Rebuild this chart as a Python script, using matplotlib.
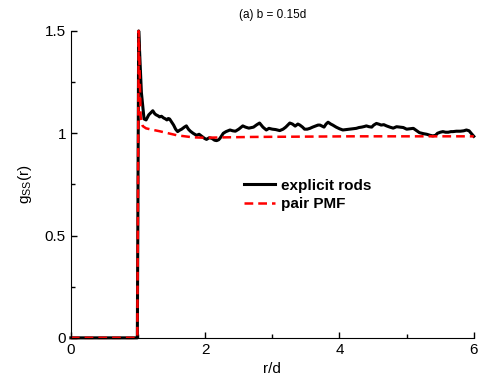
import numpy as np
import matplotlib
matplotlib.use("Agg")
import matplotlib.pyplot as plt
from matplotlib.ticker import MultipleLocator

plt.rcParams['font.family'] = ['Liberation Sans', 'DejaVu Sans']
plt.rcParams['mathtext.fontset'] = 'custom'
plt.rcParams['mathtext.rm'] = 'Liberation Sans'

# explicit rods simulation
r_exp = [0, 0.99, 1.01, 1.05, 1.09, 1.12, 1.16, 1.19, 1.22, 1.25, 1.27, 1.3, 1.32,
         1.35, 1.38, 1.41, 1.43, 1.45, 1.47, 1.5, 1.53, 1.56, 1.59, 1.62, 1.65,
         1.69, 1.72, 1.75, 1.78, 1.82, 1.87, 1.91, 1.95, 1.99, 2.02, 2.06, 2.1,
         2.14, 2.17, 2.2, 2.22, 2.25, 2.27, 2.31, 2.37, 2.41, 2.45, 2.5, 2.56,
         2.6, 2.65, 2.69, 2.72, 2.77, 2.81, 2.86, 2.91, 2.95, 3.0, 3.05, 3.11,
         3.16, 3.2, 3.26, 3.3, 3.34, 3.38, 3.41, 3.45, 3.48, 3.52, 3.56, 3.6,
         3.64, 3.68, 3.71, 3.74, 3.77, 3.8, 3.83, 3.87, 3.9, 3.95, 4.0, 4.05,
         4.1, 4.15, 4.2, 4.25, 4.29, 4.33, 4.37, 4.40, 4.44, 4.48, 4.51, 4.55,
         4.59, 4.62, 4.66, 4.70, 4.75, 4.8, 4.85, 4.90, 4.95, 5.0, 5.05, 5.10,
         5.15, 5.19, 5.25, 5.3, 5.35, 5.39, 5.43, 5.46, 5.5, 5.54, 5.58, 5.62,
         5.66, 5.69, 5.74, 5.8, 5.85, 5.89, 5.93, 5.96, 6.0]
g_exp = [0, 0, 1.5, 1.2, 1.07, 1.065, 1.09, 1.1, 1.11, 1.095, 1.09, 1.085, 1.08,
         1.083, 1.075, 1.07, 1.065, 1.072, 1.07, 1.055, 1.04, 1.02, 1.008, 1.015, 1.02,
         1.03, 1.036, 1.02, 1.01, 1.0, 0.99, 0.995, 0.985, 0.975, 0.97, 0.978, 0.975,
         0.966, 0.964, 0.968, 0.975, 0.99, 1.0, 1.008, 1.016, 1.012, 1.01, 1.02, 1.036,
         1.03, 1.025, 1.028, 1.03, 1.042, 1.05, 1.03, 1.016, 1.024, 1.02, 1.018, 1.013,
         1.02, 1.03, 1.05, 1.045, 1.035, 1.045, 1.04, 1.03, 1.02, 1.02, 1.024, 1.03,
         1.035, 1.04, 1.04, 1.035, 1.03, 1.045, 1.054, 1.045, 1.04, 1.03, 1.022, 1.016,
         1.018, 1.02, 1.022, 1.024, 1.028, 1.03, 1.033, 1.036, 1.032, 1.03, 1.04, 1.048,
         1.044, 1.04, 1.042, 1.036, 1.03, 1.025, 1.032, 1.03, 1.028, 1.02, 1.022, 1.024,
         1.012, 1.003, 0.998, 0.995, 0.99, 0.987, 0.99, 1.0, 1.005, 1.008, 1.005, 1.005,
         1.008, 1.008, 1.01, 1.01, 1.012, 1.016, 1.012, 1.0, 0.985]

# pair potential of mean force
r_pmf = [0, 0.99, 1.01, 1.04, 1.07, 1.12, 1.2, 1.32, 1.45, 1.58, 1.7, 1.82,
         2.0, 2.3, 2.7, 3.2, 3.7, 4.2, 4.7, 5.2, 5.6, 6.0]
g_pmf = [0, 0, 1.5, 1.08, 1.035, 1.024, 1.018, 1.01, 1.0, 0.99, 0.985, 0.98,
         0.978, 0.98, 0.982, 0.983, 0.984, 0.985, 0.985, 0.985, 0.985, 0.985]

fig = plt.figure(figsize=(4.82, 3.87), dpi=100)
ax = fig.add_axes([0.147, 0.127, 0.836, 0.793])

ax.plot(r_exp, g_exp, color='black', lw=2.2, label='explicit rods', clip_on=False)
ax.plot(r_pmf, g_pmf, color='red', lw=1.8, ls=(0, (3.5, 2)), label='pair PMF', clip_on=False)

ax.set_xlim(0, 6)
ax.set_ylim(0, 1.5)
ax.xaxis.set_major_locator(MultipleLocator(2))
ax.xaxis.set_minor_locator(MultipleLocator(1))
ax.yaxis.set_major_locator(MultipleLocator(0.5))
ax.yaxis.set_minor_locator(MultipleLocator(0.25))
ax.yaxis.set_major_formatter(plt.FuncFormatter(lambda v, p: ('%g' % v)))

for s in ['top', 'right']:
    ax.spines[s].set_visible(False)
ax.tick_params(which='both', direction='in', labelsize=11, width=1)
ax.tick_params(which='major', length=4)
ax.tick_params(which='minor', length=3)

ax.set_xlabel('r/d', fontsize=11)
ax.set_ylabel('g$_{\\mathrm{SS}}$(r)', fontsize=11, labelpad=8)
ax.set_title('(a) b = 0.15d', fontsize=8.5, pad=9)

ax.legend(loc='center left', bbox_to_anchor=(0.43, 0.466), frameon=False,
          prop={'weight': 'bold', 'size': 11}, handlelength=2.0,
          borderaxespad=0, borderpad=0, labelspacing=0.3, handletextpad=0.4)

fig.savefig('out.png', dpi=100)
